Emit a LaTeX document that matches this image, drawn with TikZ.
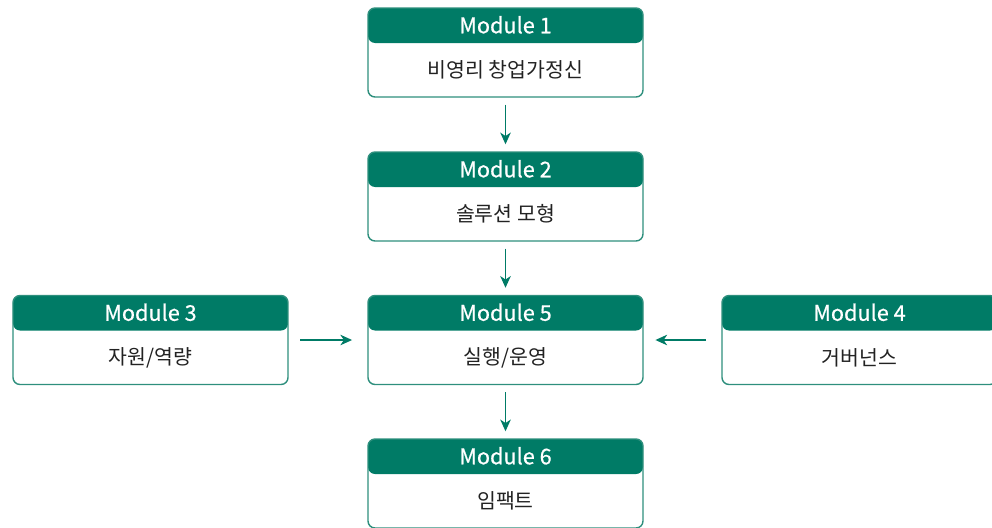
\documentclass[tikz,border=0pt]{standalone}
\usepackage{fontspec}
\setmainfont{Noto Sans CJK KR}
\newfontfamily\titlefont[FakeBold=0.6]{Noto Sans CJK KR}
\usetikzlibrary{arrows.meta, positioning, calc}

\definecolor{modteal}{HTML}{007B66}
\definecolor{modline}{HTML}{2E8F7D}
\definecolor{modtext}{HTML}{222222}

\begin{document}
\begin{tikzpicture}[
        x=0.03cm, y=-0.03cm,
        module/.style={rectangle, draw=modline, line width=1.2pt, rounded corners=6pt,
            minimum width=8.25cm, minimum height=2.67cm, inner sep=0pt,
            path picture={\fill[modteal] (path picture bounding box.north west) rectangle
                ([yshift=-1.05cm]path picture bounding box.north east);}},
        title/.style={text=white, font=\titlefont\fontsize{18.5}{21}\selectfont, inner sep=0pt},
        body/.style={text=modtext, font=\fontsize{17.5}{20}\selectfont, inner sep=0pt},
        flow/.style={draw=modteal, line width=1.1pt, -{Stealth[length=10pt, width=9pt, inset=3pt]}},
    ]

    \useasboundingbox (0,0) rectangle (992,527);

    % boxes
    \node[module] (m1) at (505.5,52.5) {};
    \node[module] (m2) at (505.5,196.5) {};
    \node[module] (m5) at (505.5,340) {};
    \node[module] (m6) at (505.5,483.5) {};
    \node[module] (m3) at (150.5,340) {};
    \node[module] (m4) at (859.5,340) {};

    % texts
    \foreach \n/\t/\b in {m1/Module 1/{비영리 창업가정신}, m2/Module 2/{솔루션 모형},
                          m3/Module 3/{자원/역량}, m4/Module 4/{거버넌스},
                          m5/Module 5/{실행/운영}, m6/Module 6/{임팩트}} {
        \node[title] (\n-title) at ([yshift=-0.525cm]\n.north) {\t};
        \node[body] (\n-body) at ([yshift=-0.525cm]\n.center) {\b};
    }

    % connectors
    \draw[flow, shorten <=6pt, shorten >=6pt] (m1) -- (m2);
    \draw[flow, shorten <=6pt, shorten >=6pt] (m2) -- (m5);
    \draw[flow, shorten <=6pt, shorten >=6pt] (m5) -- (m6);
    \draw[flow, shorten <=10pt, shorten >=13pt] (m3) -- (m5);
    \draw[flow, shorten <=13pt, shorten >=10pt] (m4) -- (m5);

\end{tikzpicture}
\end{document}
